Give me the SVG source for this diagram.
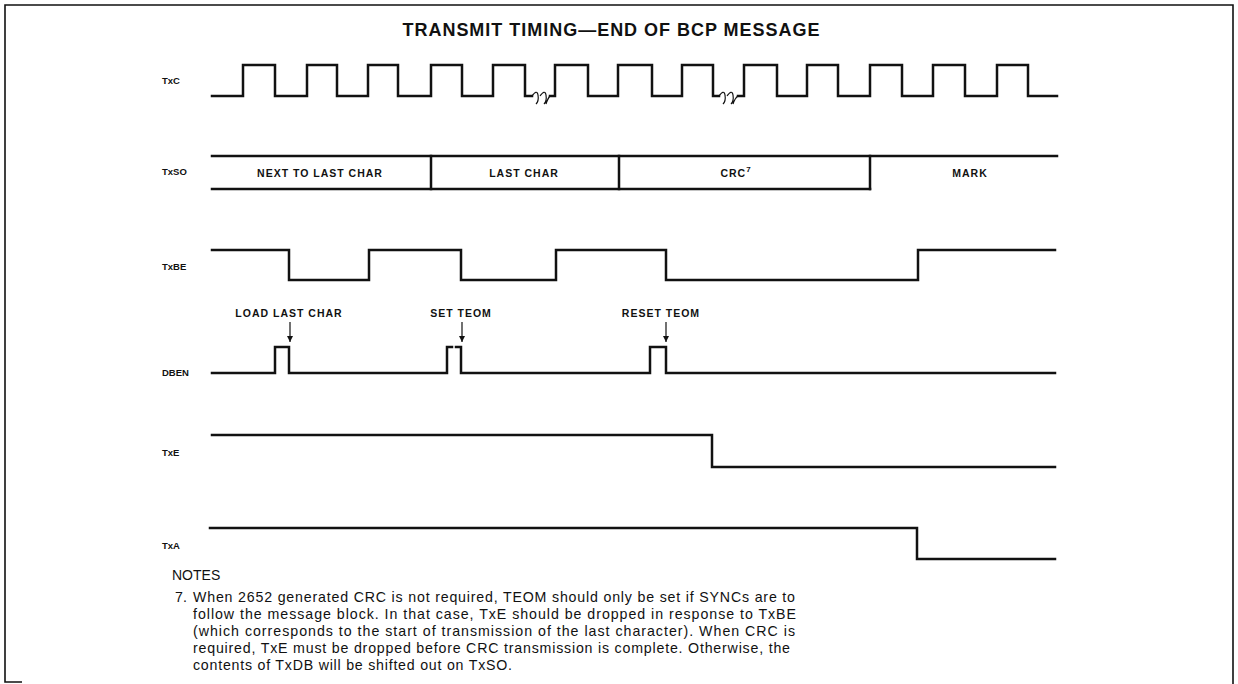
<svg xmlns="http://www.w3.org/2000/svg" width="1238" height="684" viewBox="0 0 1238 684">
<defs>
<marker id="ah" viewBox="0 0 10 10" refX="10" refY="5" markerWidth="7" markerHeight="6" orient="auto" markerUnits="userSpaceOnUse">
<path d="M0,0 L10,5 L0,10 Z" fill="#111"/>
</marker>
</defs>
<style>
.w{fill:none;stroke:#111;stroke-width:2.5;stroke-linejoin:miter;stroke-linecap:square}
.b{fill:none;stroke:#111;stroke-width:1.6}
.lab{font-family:"Liberation Sans",Arial,sans-serif;font-weight:bold;font-size:9.5px;fill:#111}
.sm{font-family:"Liberation Sans",Arial,sans-serif;font-weight:bold;font-size:10.5px;fill:#111;text-anchor:middle;letter-spacing:1px}
.note{font-family:"Liberation Sans",Arial,sans-serif;font-size:14.2px;fill:#111}
.ar{fill:none;stroke:#111;stroke-width:1.2}
</style>
<rect width="1238" height="684" fill="#fff"/>
<g id="border">
<path class="b" d="M22,682 H5 V5 H1233 V684"/>
</g>
<g id="title">
<text x="611" y="36" text-anchor="middle" font-family="Liberation Sans,Arial,sans-serif" font-weight="bold" font-size="18" fill="#111" textLength="417" lengthAdjust="spacing">TRANSMIT TIMING—END OF BCP MESSAGE</text>
</g>
<g id="TxC">
<text class="lab" x="162" y="84">TxC</text>
<path class="w" d="M212,96 H243 V65 H275 V96 H307 V65 H337 V96 H368 V65 H398 V96 H431 V65 H462 V96 H493 V65 H525 V96 H532"/>
<path class="w" d="M550,96 H555 V65 H588 V96 H618 V65 H652 V96 H682 V65 H713 V96 H719"/>
<path class="w" d="M738,96 H744 V65 H777 V96 H807 V65 H838 V96 H870 V65 H902 V96 H933 V65 H965 V96 H997 V65 H1028 V96 H1057"/>
<path class="ar" stroke-width="2" d="M532,96 q5,-7 6,-1 q1,6 -2,9 M540,96 q5,-7 6,-1 q1,6 -2,9 M546,104 q2,-6 4,-8"/>
<path class="ar" stroke-width="2" d="M719,96 q5,-7 6,-1 q1,6 -2,9 M727,96 q5,-7 6,-1 q1,6 -2,9 M733,104 q2,-6 5,-8"/>
</g>
<g id="TxSO">
<text class="lab" x="162" y="175">TxSO</text>
<path class="w" d="M212,156 H1057"/>
<path class="w" d="M212,189 H870"/>
<path class="w" d="M431,156 V189 M619,156 V189 M870,156 V189"/>
<text class="sm" x="320" y="177">NEXT TO LAST CHAR</text>
<text class="sm" x="524" y="177">LAST CHAR</text>
<text class="sm" x="736" y="177">CRC<tspan font-size="8" dy="-5">7</tspan></text>
<text class="sm" x="970" y="177">MARK</text>
</g>
<g id="TxBE">
<text class="lab" x="162" y="270">TxBE</text>
<path class="w" d="M212,250 H289 V280 H369 V250 H461 V280 H556 V250 H666 V280 H918 V250 H1055"/>
</g>
<g id="DBEN">
<text class="lab" x="162" y="376">DBEN</text>
<path class="w" d="M212,373 H275 V347 H289 V373 H447 V347 H452"/>
<path class="w" d="M456,347 H461 V373 H650 V347 H666 V373 H1055"/>
<text class="sm" x="289" y="317">LOAD LAST CHAR</text>
<text class="sm" x="461" y="317">SET TEOM</text>
<text class="sm" x="661" y="317">RESET TEOM</text>
</g>
<g id="TxE">
<text class="lab" x="162" y="456">TxE</text>
<path class="w" d="M212,435 H712 V467 H1055"/>
</g>
<g id="TxA">
<text class="lab" x="162" y="549">TxA</text>
<path class="w" d="M210,528 H917 V559 H1055"/>
</g>
<g id="connectors">
<line class="ar" x1="290" y1="322" x2="290" y2="342" marker-end="url(#ah)"/>
<line class="ar" x1="462" y1="322" x2="462" y2="342" marker-end="url(#ah)"/>
<line class="ar" x1="666" y1="322" x2="666" y2="342" marker-end="url(#ah)"/>
</g>
<g id="notes">
<text x="172" y="580" font-family="Liberation Sans,Arial,sans-serif" font-size="14" fill="#111">NOTES</text>
<text class="note" x="175" y="602">7.</text>
<text class="note" x="193" y="602" textLength="602" lengthAdjust="spacing">When 2652 generated CRC is not required, TEOM should only be set if SYNCs are to</text>
<text class="note" x="193" y="619" textLength="603" lengthAdjust="spacing">follow the message block. In that case, TxE should be dropped in response to TxBE</text>
<text class="note" x="193" y="636" textLength="602" lengthAdjust="spacing">(which corresponds to the start of transmission of the last character). When CRC is</text>
<text class="note" x="193" y="653" textLength="597" lengthAdjust="spacing">required, TxE must be dropped before CRC transmission is complete. Otherwise, the</text>
<text class="note" x="193" y="670" textLength="319" lengthAdjust="spacing">contents of TxDB will be shifted out on TxSO.</text>
</g>
</svg>
